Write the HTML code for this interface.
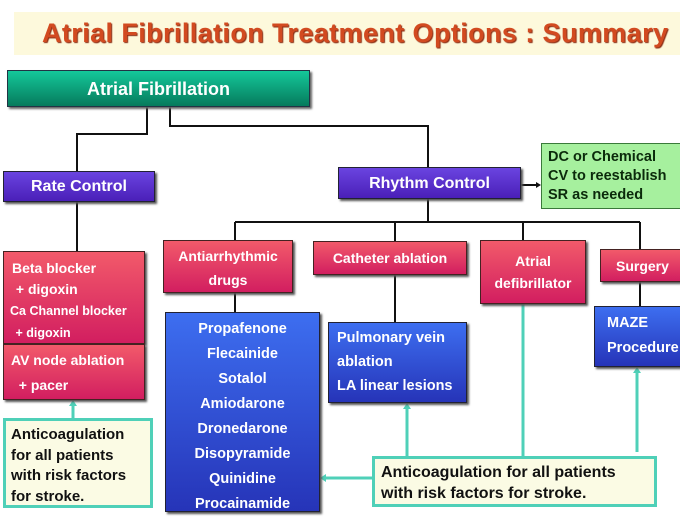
<!DOCTYPE html>
<html><head><style>
body{margin:0;width:680px;height:519px;background:#fff;position:relative;overflow:hidden;font-family:"Liberation Sans",Arial,sans-serif;font-weight:bold}
.a{position:absolute;box-sizing:border-box}
.title{left:14px;top:12px;width:666px;height:43px;background:#fdf9dc;color:#d24a20;font-size:27px;letter-spacing:0.4px;line-height:43px;padding-left:28px;text-shadow:1px 1px 1px #8a2a10;white-space:nowrap}
.teal{background:linear-gradient(#14c89a,#067a5c);color:#fff;font-size:18px;text-align:center;border:1px solid #234;box-shadow:2px 2px 2px #666}
.pur{background:linear-gradient(#6a44e0,#4a1fb8);color:#fff;font-size:16px;text-align:center;box-shadow:2px 2px 2px #555;border:1px solid #223}
.pink{background:linear-gradient(#f25a6a,#d21e60);color:#fff;font-size:14px;border:1px solid #422;box-shadow:2px 2px 2px #555}
.blue{background:linear-gradient(#3d6ef0,#2634b8);color:#fff;font-size:14.5px;border:1px solid #223;box-shadow:2px 2px 2px #555}
.note{background:#fbfbe4;border:3px solid #4fd0b8;color:#111;font-size:15px}
.green{background:#a6f09e;border:1.5px solid #3a7a3a;color:#0b2a0b;font-size:14.5px;line-height:19px;padding:4px 6px}
.c{text-align:center}
</style></head><body>
<div class="a title">Atrial Fibrillation Treatment Options : Summary</div>
<svg class="a" style="left:0;top:0" width="680" height="519">
<g stroke="#111" stroke-width="2" fill="none">
<path d="M147 106V134H77V172"/>
<path d="M170 106V126H428V168"/>
<path d="M428 199V222"/>
<path d="M235 222H640"/>
<path d="M235 222V241M395 222V242M523 222V241M640 222V250"/>
<path d="M77 202V252"/>
<path d="M235 293V313M395 275V323M640 282V307"/>
<path d="M521 185H537"/>
</g>
<path d="M541 185l-5-3v6z" fill="#111"/>
<g stroke="#4fd0b8" stroke-width="3" fill="none">
<path d="M73 418V404M407 456V407M523 456V300M637 452V371M372 478H325"/>
</g>
<g fill="#4fd0b8">
<path d="M73 400l-4 6h8zM407 403l-4 6h8zM523 296l-4 6h8zM637 367l-4 6h8zM320 478l6-4v8z"/>
</g>
</svg>
<div class="a teal" style="left:7px;top:70px;width:303px;height:37px;line-height:36px">Atrial Fibrillation</div>
<div class="a pur" style="left:3px;top:171px;width:152px;height:31px;line-height:30px">Rate Control</div>
<div class="a pur" style="left:338px;top:167px;width:183px;height:32px;line-height:31px">Rhythm Control</div>
<div class="a green" style="left:541px;top:143px;width:145px;height:66px">DC or Chemical<br>CV to reestablish<br>SR as needed</div>
<div class="a pink" style="left:3px;top:251px;width:142px;height:93px;padding:6px 0 0 8px;line-height:21px">Beta blocker<br>&nbsp;+ digoxin<br><span style="font-size:12.5px;margin-left:-2px">Ca Channel blocker</span><br><span style="font-size:12.5px">&nbsp;+ digoxin</span></div>
<div class="a pink" style="left:3px;top:344px;width:142px;height:56px;padding:3px 0 0 7px;line-height:25px">AV node ablation<br>&nbsp;&nbsp;+ pacer</div>
<div class="a pink c" style="left:163px;top:240px;width:130px;height:53px;line-height:24px;padding-top:3px">Antiarrhythmic<br>drugs</div>
<div class="a pink c" style="left:313px;top:241px;width:154px;height:34px;line-height:33px">Catheter ablation</div>
<div class="a pink c" style="left:480px;top:240px;width:106px;height:64px;line-height:22px;padding-top:9px">Atrial<br>defibrillator</div>
<div class="a pink" style="left:600px;top:249px;width:84px;height:33px;line-height:32px;padding-left:15px">Surgery</div>
<div class="a blue c" style="left:165px;top:312px;width:155px;height:200px;line-height:25px;padding-top:4px">Propafenone<br>Flecainide<br>Sotalol<br>Amiodarone<br>Dronedarone<br>Disopyramide<br>Quinidine<br>Procainamide</div>
<div class="a blue" style="left:328px;top:322px;width:139px;height:81px;line-height:24px;padding:3px 0 0 8px">Pulmonary vein<br>ablation<br>LA linear lesions</div>
<div class="a blue" style="left:594px;top:306px;width:90px;height:61px;line-height:25px;padding:4px 0 0 12px">MAZE<br>Procedure</div>
<div class="a note" style="left:3px;top:418px;width:150px;height:90px;line-height:20.5px;padding:4px 0 0 5px">Anticoagulation<br>for all patients<br>with risk factors<br>for stroke.</div>
<div class="a note" style="left:372px;top:456px;width:285px;height:51px;line-height:21px;padding:3px 0 0 6px;font-size:16px">Anticoagulation for all patients<br>with risk factors for stroke.</div>
</body></html>
